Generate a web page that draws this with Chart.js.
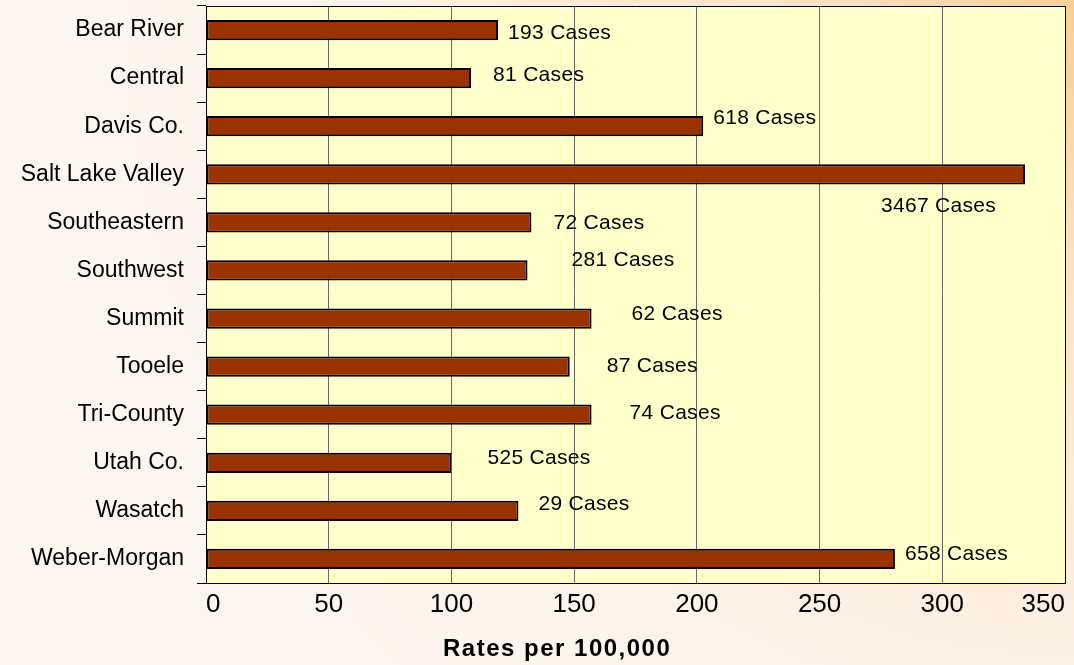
<!DOCTYPE html>
<html>
<head>
<meta charset="utf-8">
<script src="https://cdn.jsdelivr.net/npm/chart.js@4/dist/chart.umd.min.js"></script>
<style>
  body { margin: 0; background: #fdf5ec; }
  #box { width: 1074px; height: 665px; }
</style>
</head>
<body>
<div id="box"><canvas id="grafico"></canvas></div>
<script>
// dados
var regioes = ["Bear River", "Central", "Davis Co.", "Salt Lake Valley", "Southeastern", "Southwest",
               "Summit", "Tooele", "Tri-County", "Utah Co.", "Wasatch", "Weber-Morgan"];
var taxas = [119, 108, 202.6, 333.7, 132.6, 131, 157.1, 148.2, 157.1, 100, 127.3, 280.7];
var casos = [193, 81, 618, 3467, 72, 281, 62, 87, 74, 525, 29, 658];
var eixoMin = 0, eixoMax = 350, passo = 50;
var tituloX = "Rates per 100,000";

// deslocamento (px) de cada rotulo "Cases" a partir da ponta da barra
var deslocRotulo = [[10, 3], [22, -3], [10, -8], [-144, 32], [22, 1], [44, -10],
                    [40, -4], [37, 0], [38, -2], [36, -5], [20, -7], [10, -5]];

var fonte = "Arial, 'Liberation Sans', sans-serif";

var fundo = {
    id: "fundo",
    beforeDraw: function (chart) {
        var c = chart.ctx, a = chart.chartArea;
        c.save();
        var g = c.createRadialGradient(chart.width, 0, 0, chart.width, 0, 950);
        g.addColorStop(0, "#f8cf95");
        g.addColorStop(0.3, "#fbe4c6");
        g.addColorStop(0.75, "#fdf3e8");
        g.addColorStop(1, "#fdf6ee");
        c.fillStyle = g;
        c.fillRect(0, 0, chart.width, chart.height);
        c.fillStyle = "#ffffcc";
        c.fillRect(a.left, a.top, a.right - a.left, a.bottom - a.top);
        c.restore();
    },
    afterDatasetsDraw: function (chart) {
        var c = chart.ctx, a = chart.chartArea;
        c.save();
        // borda de cima e da direita
        c.strokeStyle = "#000";
        c.lineWidth = 1;
        c.beginPath();
        c.moveTo(a.left, a.top + 0.5);
        c.lineTo(a.right + 0.5, a.top + 0.5);
        c.lineTo(a.right + 0.5, a.bottom);
        c.stroke();

        c.fillStyle = "#000";
        c.font = "21px " + fonte;
        c.letterSpacing = "0.3px";
        c.textAlign = "left";
        c.textBaseline = "middle";
        chart.getDatasetMeta(0).data.forEach(function (bar, i) {
            c.fillText(casos[i] + " Cases", bar.x + deslocRotulo[i][0], bar.y + deslocRotulo[i][1]);
        });

        c.font = "bold 24px " + fonte;
        c.letterSpacing = "1.5px";
        c.fillText(tituloX, 443, 649);
        c.restore();
    }
};

new Chart(grafico.getContext("2d"), {
    type: "bar",
    data: {
        labels: regioes,
        datasets: [{
            data: taxas,
            backgroundColor: "#993300",
            borderColor: "#000",
            borderWidth: 2,
            borderSkipped: false,
            barPercentage: 0.42,
            categoryPercentage: 1
        }]
    },
    options: {
        indexAxis: "y",
        responsive: true,
        maintainAspectRatio: false,
        animation: false,
        layout: { padding: { top: 6, right: 9, left: 0, bottom: 0 } },
        scales: {
            x: {
                min: eixoMin,
                max: eixoMax,
                afterFit: function (s) { s.height = 82; },
                ticks: { stepSize: passo, align: "inner", color: "#000", padding: 6, font: { size: 26, family: fonte } },
                grid: {
                    drawTicks: false,
                    color: function (ctx) { return ctx.tick && ctx.tick.value === eixoMax ? "#000" : "#666"; }
                },
                border: { color: "#000", width: 1 }
            },
            y: {
                afterFit: function (s) { s.width = 206; s.paddingTop = 0; s.paddingBottom = 0; },
                ticks: { color: "#000", padding: 13, font: { size: 23, family: fonte } },
                grid: { drawOnChartArea: false, drawTicks: true, tickLength: 9, color: "#000", offset: true },
                border: { color: "#000", width: 1 }
            }
        },
        plugins: {
            legend: { display: false },
            tooltip: { enabled: false }
        }
    },
    plugins: [fundo]
});
</script>
</body>
</html>
